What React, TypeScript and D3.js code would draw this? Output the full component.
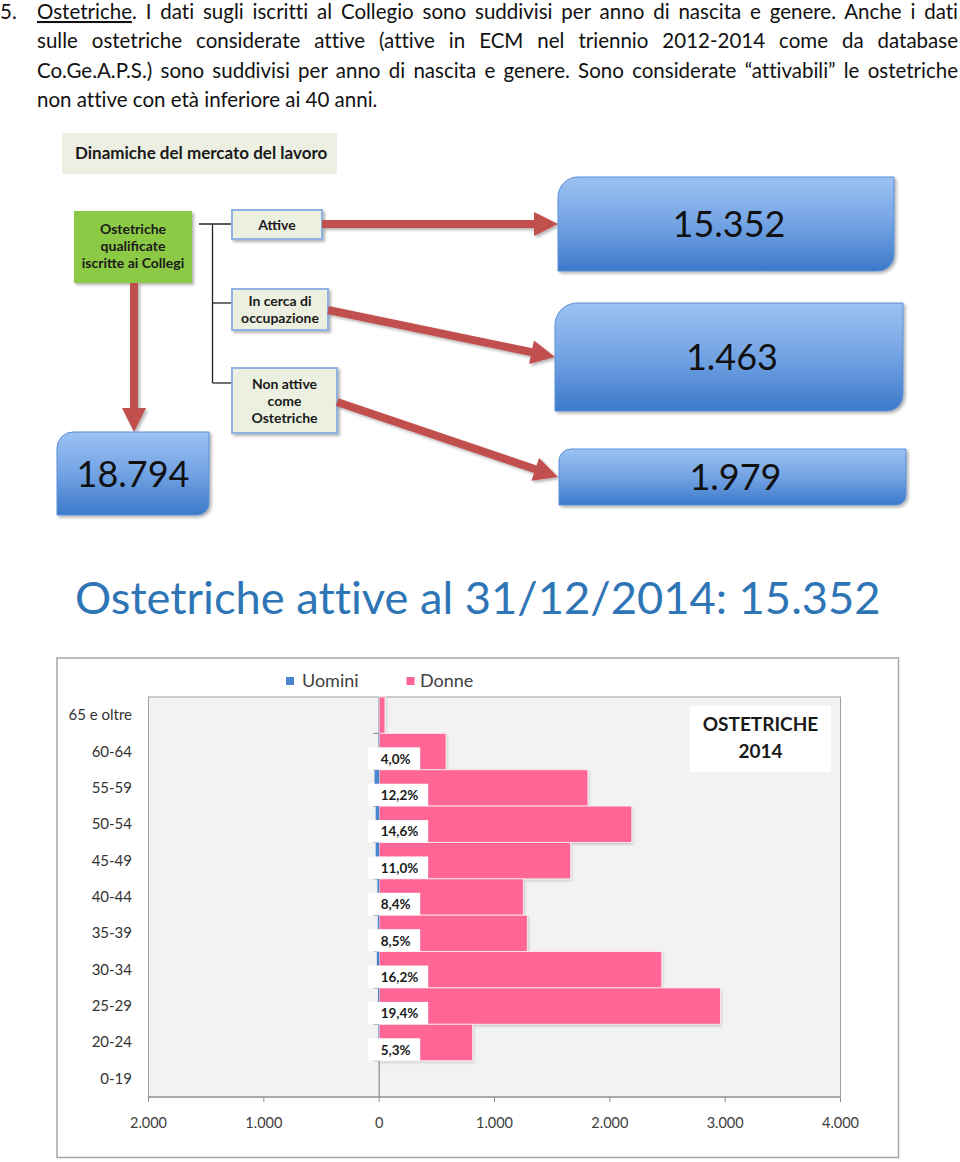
import React, { useLayoutEffect, useRef, useState } from 'react';
import * as d3 from 'd3';

// age groups, top to bottom
const ageGroups = ['65 e oltre', '60-64', '55-59', '50-54', '45-49', '40-44', '35-39', '30-34', '25-29', '20-24', '0-19'];
const uomini = [3, 5, 40, 30, 30, 15, 12, 20, 10, 5, 0];
const donne = [50, 580, 1810, 2190, 1660, 1250, 1285, 2450, 2960, 810, 0];
const percentuali = [null, 4.0, 12.2, 14.6, 11.0, 8.4, 8.5, 16.2, 19.4, 5.3, null];
const xTicks = [-2000, -1000, 0, 1000, 2000, 3000, 4000];

// flow diagram
const iscritte = 18794;
const flowLabels = [['Attive'], ['In cerca di', 'occupazione'], ['Non attive', 'come', 'Ostetriche']];
const flowTotals = [15352, 1463, 1979];
const attiveAl = '31/12/2014';

const paragraph = [
  'sulle ostetriche considerate attive (attive in ECM nel triennio 2012-2014 come da database',
  'Co.Ge.A.P.S.) sono suddivisi per anno di nascita e genere. Sono considerate \u201cattivabili\u201d le ostetriche',
  'non attive con et\u00e0 inferiore ai 40 anni.',
];

const it = d3.formatLocale({ decimal: ',', thousands: '.', grouping: [3], currency: ['\u20ac', ''] });
const fmtInt = it.format(',d');
const fmtPct = it.format('.1f');

const RED = '#C0504D';
const PINK = '#FF6695';
const BLUE = '#4A86D0';
const CAL = 'Lato, "Open Sans", sans-serif';

function diagRect(x: number, y: number, w: number, h: number, r1: number, r2: number) {
  return `M${x + r1},${y} H${x + w} V${y + h - r2} A${r2},${r2} 0 0 1 ${x + w - r2},${y + h} H${x} V${y + r1} A${r1},${r1} 0 0 1 ${x + r1},${y} Z`;
}

// justified line: spreads the words to the given width via word-spacing
function Justified({ x, y, width, justify, children }: { x: number; y: number; width: number; justify: boolean; children: React.ReactNode }) {
  const ref = useRef<SVGTextElement>(null);
  const [ws, setWs] = useState(0);
  useLayoutEffect(() => {
    if (!justify || !ref.current) return;
    const el = ref.current;
    el.setAttribute('word-spacing', '0');
    const natural = el.getComputedTextLength();
    const spaces = (el.textContent || '').split(' ').length - 1;
    if (spaces > 0) setWs((width - natural) / spaces);
  }, [justify, width]);
  return (
    <text ref={ref} x={x} y={y} wordSpacing={ws}>
      {children}
    </text>
  );
}

// text scaled (by font size) to span a given width
function FitText({ x, y, width, size, children, ...rest }: any) {
  const ref = useRef<SVGTextElement>(null);
  const [fs, setFs] = useState(size);
  useLayoutEffect(() => {
    if (!ref.current) return;
    const natural = ref.current.getComputedTextLength();
    if (natural > 0) setFs((size * width) / natural);
  }, [size, width]);
  return (
    <text ref={ref} x={x} y={y} fontSize={fs} {...rest}>
      {children}
    </text>
  );
}

function Arrow({ x1, y1, x2, y2 }: { x1: number; y1: number; x2: number; y2: number }) {
  const dx = x2 - x1, dy = y2 - y1;
  const len = Math.hypot(dx, dy);
  const ux = dx / len, uy = dy / len;
  const nx = -uy, ny = ux;
  const headL = 24, headW = 12, shaft = 4;
  const bx = x2 - ux * headL, by = y2 - uy * headL;
  const pts = [
    [x1 + nx * shaft, y1 + ny * shaft],
    [bx + nx * shaft, by + ny * shaft],
    [bx + nx * headW, by + ny * headW],
    [x2, y2],
    [bx - nx * headW, by - ny * headW],
    [bx - nx * shaft, by - ny * shaft],
    [x1 - nx * shaft, y1 - ny * shaft],
  ];
  return <polygon points={pts.map(p => p.join(',')).join(' ')} fill={RED} filter="url(#shadow)" />;
}

export default function App() {
  // chart geometry
  const plot = { left: 148.5, right: 840.5, top: 697, bottom: 1097 };
  const x = d3.scaleLinear().domain([-2000, 4000]).range([plot.left, plot.right]);
  const y = d3.scaleBand().domain(ageGroups).range([plot.top, plot.bottom]).paddingInner(0);
  const bw = y.bandwidth();
  const x0 = x(0);

  // flow layout
  const srcBoxes = [
    { x: 232, y: 210, w: 90, h: 29 },
    { x: 232, y: 289, w: 96, h: 41 },
    { x: 232, y: 368, w: 105, h: 65 },
  ];
  const totBoxes = [
    { x: 558, y: 177, w: 336, h: 94, r1: 20, r2: 16 },
    { x: 555, y: 303, w: 348, h: 108, r1: 22, r2: 16 },
    { x: 559, y: 449, w: 347, h: 56, r1: 12, r2: 10 },
  ];
  const arrowEnds = [
    [322, 224, 558, 224],
    [328, 310, 555, 357],
    [337, 402, 558, 477],
  ];
  const branchY = [224, 303, 383];

  return (
    <svg width={960} height={1162} style={{ position: 'absolute', left: 0, top: 0, background: '#fff' }}>
      <defs>
        <filter id="shadow" x="-10%" y="-10%" width="130%" height="140%">
          <feDropShadow dx="2" dy="2" stdDeviation="1.5" floodColor="#000" floodOpacity="0.3" />
        </filter>
        <filter id="barShadow" x="-5%" y="-10%" width="110%" height="130%">
          <feDropShadow dx="1" dy="1.5" stdDeviation="1" floodColor="#000" floodOpacity="0.2" />
        </filter>
        <linearGradient id="blueGrad" x1="0" y1="0" x2="0" y2="1">
          <stop offset="0" stopColor="#9CC2F2" />
          <stop offset="0.5" stopColor="#73A3E4" />
          <stop offset="1" stopColor="#3C79CA" />
        </linearGradient>
      </defs>

      {/* paragraph */}
      <g fontFamily={CAL} fontSize={20.5} fill="#111" style={{ fontVariantLigatures: 'none' }}>
        <text x={0} y={19}>5.</text>
        <Justified x={37} y={19} width={921} justify>
          <tspan style={{ textDecoration: 'underline' }}>Ostetriche</tspan>. I dati sugli iscritti al Collegio sono suddivisi per anno di nascita e genere. Anche i dati
        </Justified>
        {paragraph.map((t, i) => (
          <Justified key={i} x={37} y={19 + (i + 1) * 29.4} width={921} justify={i < 2}>
            {t}
          </Justified>
        ))}
      </g>

      {/* flow diagram */}
      <rect x={62} y={133} width={275} height={41} fill="#EDEFE3" />
      <text x={75} y={159} fontFamily={CAL} fontWeight="bold" fontSize={17} fill="#1a1a1a">
        Dinamiche del mercato del lavoro
      </text>

      <g fill="none" stroke="#222" strokeWidth={1.3}>
        <line x1={199} x2={232} y1={224} y2={224} />
        <line x1={212.5} x2={212.5} y1={224} y2={383} />
        {branchY.slice(1).map(by => (
          <line key={by} x1={212.5} x2={232} y1={by} y2={by} />
        ))}
      </g>

      <rect x={74} y={211} width={118} height={72} fill="#8CC944" filter="url(#shadow)" />
      {['Ostetriche', 'qualificate', 'iscritte ai Collegi'].map((t, i) => (
        <text key={t} x={133} y={234 + i * 17} textAnchor="middle" fontFamily={CAL} fontWeight="bold" fontSize={14} fill="#1a1a1a">
          {t}
        </text>
      ))}

      {srcBoxes.map((b, i) => (
        <g key={i}>
          <rect x={b.x} y={b.y} width={b.w} height={b.h} fill="#ECF0E1" stroke="#8DB4E3" strokeWidth={2} filter="url(#shadow)" />
          {flowLabels[i].map((t, j) => (
            <text
              key={j}
              x={b.x + b.w / 2}
              y={b.y + b.h / 2 + 5 + (j - (flowLabels[i].length - 1) / 2) * 17}
              textAnchor="middle"
              fontFamily={CAL}
              fontWeight="bold"
              fontSize={14}
              fill="#1a1a1a"
            >
              {t}
            </text>
          ))}
        </g>
      ))}

      {arrowEnds.map((a, i) => (
        <Arrow key={i} x1={a[0]} y1={a[1]} x2={a[2]} y2={a[3]} />
      ))}
      <Arrow x1={134} y1={283} x2={134} y2={432} />

      <path d={diagRect(57, 432, 152, 83, 16, 12)} fill="url(#blueGrad)" stroke="#5A8FD6" strokeWidth={1} filter="url(#shadow)" />
      <text x={133} y={487} textAnchor="middle" fontFamily={CAL} fontSize={36} fill="#111">
        {fmtInt(iscritte)}
      </text>

      {totBoxes.map((b, i) => (
        <g key={i}>
          <path d={diagRect(b.x, b.y, b.w, b.h, b.r1, b.r2)} fill="url(#blueGrad)" stroke="#5A8FD6" strokeWidth={1} filter="url(#shadow)" />
          <text x={b.x + b.w / 2 + 3} y={b.y + b.h / 2 + 13} textAnchor="middle" fontFamily={CAL} fontSize={36} fill="#111">
            {fmtInt(flowTotals[i])}
          </text>
        </g>
      ))}

      {/* big title */}
      <FitText x={75} y={614} width={806} size={50} fontFamily={CAL} fill="#2E75B6" style={{ fontVariantLigatures: 'none' }}>
        {`Ostetriche attive al ${attiveAl}: ${fmtInt(flowTotals[0])}`}
      </FitText>

      {/* chart */}
      <rect x={57} y={658} width={841.5} height={499.5} fill="#fff" stroke="#A6A6A6" strokeWidth={1.5} />

      <g fontFamily={CAL} fontSize={18} fill="#404040">
        <rect x={286} y={677} width={8} height={8} fill={BLUE} />
        <text x={302} y={686.5}>Uomini</text>
        <rect x={406.5} y={677} width={8} height={8} fill={PINK} />
        <text x={420} y={686.5}>Donne</text>
      </g>

      <rect x={plot.left} y={plot.top} width={plot.right - plot.left} height={plot.bottom - plot.top} fill="#F2F2F2" stroke="#A0A0A0" strokeWidth={1} />

      {/* y axis at zero */}
      <line x1={x0} x2={x0} y1={plot.top} y2={plot.bottom} stroke="#8C8C8C" strokeWidth={1.2} />
      {ageGroups.slice(1).map(g => (
        <line key={g} x1={x0 - 6} x2={x0} y1={y(g)!} y2={y(g)!} stroke="#8C8C8C" strokeWidth={1} />
      ))}

      {/* bars */}
      <g filter="url(#barShadow)">
        {ageGroups.map((g, i) =>
          donne[i] > 0 ? (
            <rect key={'d' + g} x={x0} y={y(g)!} width={x(donne[i]) - x0} height={bw} fill={PINK} stroke="#fff" strokeOpacity={0.7} strokeWidth={1} />
          ) : null
        )}
        {ageGroups.map((g, i) =>
          uomini[i] > 0 ? (
            <rect key={'u' + g} x={x(-uomini[i])} y={y(g)!} width={x0 - x(-uomini[i])} height={bw} fill={BLUE} />
          ) : null
        )}
      </g>

      {/* percentage labels */}
      {ageGroups.map((g, i) => {
        const p = percentuali[i];
        if (p == null) return null;
        const label = fmtPct(p) + '%';
        const w = 20 + label.length * 8;
        const y1 = y(g)! + bw;
        return (
          <g key={'p' + g}>
            <rect x={x0 - 11} y={y(g)! + 14} width={w} height={bw - 14} fill="#fff" />
            <text x={x0 + 1.5} y={y1 - 6} fontFamily={CAL} fontWeight="bold" fontSize={13.5} fill="#1a1a1a">
              {label}
            </text>
          </g>
        );
      })}

      {/* x axis */}
      <line x1={plot.left} x2={plot.right} y1={plot.bottom} y2={plot.bottom} stroke="#8C8C8C" strokeWidth={1.2} />
      {xTicks.map(t => (
        <g key={t}>
          <line x1={x(t)} x2={x(t)} y1={plot.bottom} y2={plot.bottom + 5} stroke="#8C8C8C" strokeWidth={1} />
          <text x={x(t)} y={1128} textAnchor="middle" fontFamily={CAL} fontSize={14.5} fill="#404040">
            {fmtInt(Math.abs(t))}
          </text>
        </g>
      ))}

      {/* category labels */}
      {ageGroups.map(g => (
        <text key={'c' + g} x={132} y={y(g)! + bw / 2 + 5} textAnchor="end" fontFamily={CAL} fontSize={15} fill="#333">
          {g}
        </text>
      ))}

      {/* inset title */}
      <rect x={690} y={706} width={141} height={66} fill="#fff" />
      <text x={760.5} y={731} textAnchor="middle" fontFamily={CAL} fontWeight="bold" fontSize={19} fill="#1a1a1a">
        OSTETRICHE
      </text>
      <text x={760.5} y={758} textAnchor="middle" fontFamily={CAL} fontWeight="bold" fontSize={19} fill="#1a1a1a">
        2014
      </text>
    </svg>
  );
}
